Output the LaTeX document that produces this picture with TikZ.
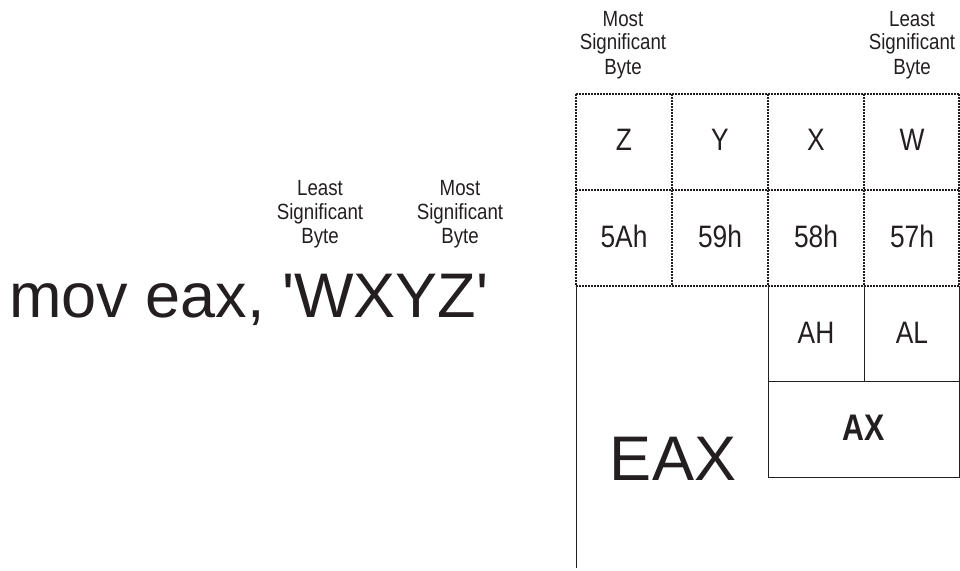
\documentclass[tikz,border=0pt]{standalone}
\usepackage{fontspec}
\setmainfont{Liberation Sans}
\newfontfamily\condf[FakeStretch=0.85]{Liberation Sans}
\newfontfamily\condbf[FakeStretch=0.82]{Liberation Sans Bold}
\definecolor{ink}{HTML}{231F20}
\begin{document}
\begin{tikzpicture}[x=1pt,y=-1pt,
  dline/.style={draw=ink,line width=1.1pt,dash pattern=on 2pt off 1pt},
  sline/.style={draw=ink,line width=1pt},
  lbl/.style={inner sep=0pt,text=ink,align=center,font=\condf\fontsize{22}{24}\selectfont,anchor=base},
  cell/.style={inner sep=0pt,text=ink,font=\condf\fontsize{31}{36}\selectfont,anchor=base},
  big/.style={inner sep=0pt,text=ink,font=\fontsize{63}{70}\selectfont,anchor=base}]
\useasboundingbox (0,0) rectangle (960,570);
% top labels (anchor = baseline of last line)
\node[lbl] (msbtop) at (623,74) {Most\\Significant\\Byte};
\node[lbl] (lsbtop) at (912,74) {Least\\Significant\\Byte};
% middle labels
\node[lbl] (lsbmid) at (320,243) {Least\\Significant\\Byte};
\node[lbl] (msbmid) at (460,243) {Most\\Significant\\Byte};
% instruction
\node[big,anchor=base west] (mov) at (9,317) {mov eax, \textquotesingle WXYZ\textquotesingle};
% dashed grid
\foreach \yy in {94,190,286} \draw[dline] (576,\yy) -- (959,\yy);
\foreach \xx in {576,672,768,864,959} \draw[dline] (\xx,94) -- (\xx,286);
% solid part
\draw[sline] (576,286) -- (576,568);
\draw[sline] (768,286) -- (768,477) -- (959,477) -- (959,286);
\draw[sline] (768,381) -- (959,381);
\draw[sline] (864,286) -- (864,381);
% cell texts
\node[cell] (cz) at (624,150) {Z};
\node[cell] (cy) at (720,150) {Y};
\node[cell] (cx) at (816,150) {X};
\node[cell] (cw) at (912,150) {W};
\node[cell] (h5a) at (624,247) {5Ah};
\node[cell] (h59) at (720,247) {59h};
\node[cell] (h58) at (816,247) {58h};
\node[cell] (h57) at (912,247) {57h};
\node[cell] (ah) at (816,343) {AH};
\node[cell] (al) at (912,343) {AL};
\node[cell,font=\condbf\fontsize{37}{42}\selectfont] (ax) at (864,440) {AX};
\node[big] (eax) at (673,480) {EAX};
\end{tikzpicture}
\end{document}
